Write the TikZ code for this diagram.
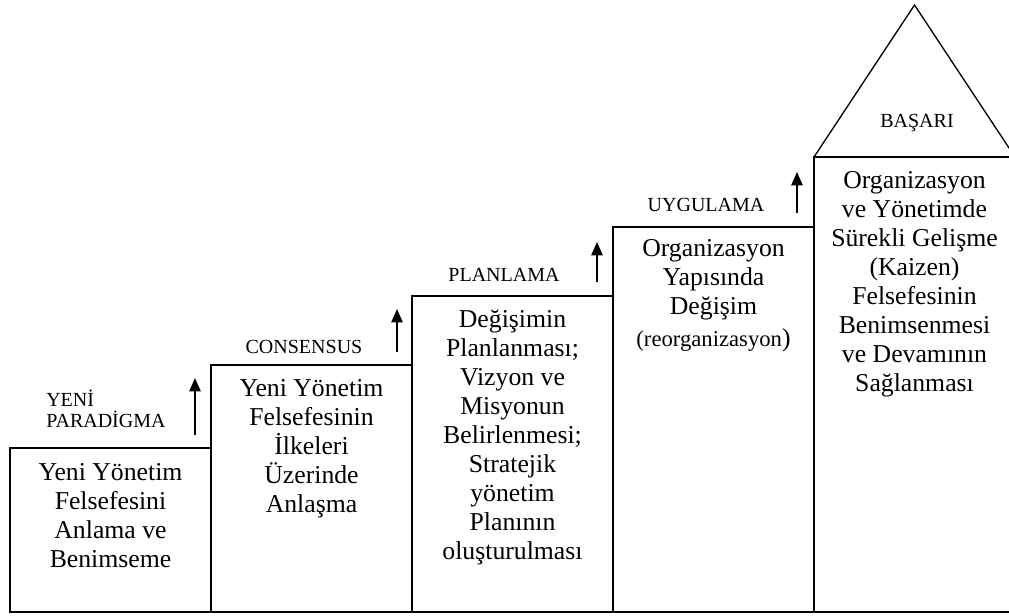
\documentclass[tikz,border=0pt]{standalone}
\usepackage{fontspec}
\setmainfont{Liberation Serif}
\usetikzlibrary{arrows.meta,positioning}
\tikzset{
  stepbox/.style={draw, line width=1.5pt, minimum width=150.75pt, inner sep=0pt,
                  outer sep=0pt, anchor=south west},
  body/.style={align=center, inner sep=0pt, font=\fontsize{19.3pt}{21.75pt}\selectfont},
  lbl/.style={inner sep=0pt, font=\fontsize{15pt}{15.75pt}\selectfont},
  up/.style={-{Triangle[length=10pt, width=8.5pt]}, line width=1.2pt},
}

\begin{document}
\begin{tikzpicture}[x=0.75pt, y=0.75pt]
  \clip (0,0) rectangle (1009,615);
  % steps
  \node[stepbox, minimum height=123pt] (s1) at (10,3) {};
  \node[stepbox, minimum height=185.25pt] (s2) at (s1.south east) {};
  \node[stepbox, minimum height=237pt] (s3) at (s2.south east) {};
  \node[stepbox, minimum height=288.75pt] (s4) at (s3.south east) {};
  \node[stepbox, minimum height=341.25pt] (s5) at (s4.south east) {};
  \coordinate[above=114pt of s5.north] (apex);
  \draw[line width=1pt] (s5.north west) -- (apex) -- (s5.north east);
  % step texts
  \node[body, below=11.5pt of s1.north] (t1) {Yeni Yönetim\\ Felsefesini\\ Anlama ve\\ Benimseme};
  \node[body, below=10.5pt of s2.north] (t2) {Yeni Yönetim\\ Felsefesinin\\ İlkeleri\\ Üzerinde\\ Anlaşma};
  \node[body, below=10.5pt of s3.north] (t3) {Değişimin\\ Planlanması;\\ Vizyon ve\\ Misyonun\\ Belirlenmesi;\\ Stratejik\\ yönetim\\ Planının\\ oluşturulması};
  \node[body, below=9.5pt of s4.north] (t4) {Organizasyon\\ Yapısında\\ Değişim\\[2pt] {\fontsize{17pt}{20pt}\selectfont (reorganizasyon}{\fontsize{19.3pt}{20pt}\selectfont )}};
  \node[body, below=11pt of s5.north] (t5) {Organizasyon\\ ve Yönetimde\\ Sürekli Gelişme\\ (Kaizen)\\ Felsefesinin\\ Benimsenmesi\\ ve Devamının\\ Sağlanması};
  % stage labels
  \node[lbl, align=left, anchor=south west] (l1) at (46,187) {YENİ\\ PARADİGMA};
  \node[lbl, anchor=base] (l2) at (304,262) {CONSENSUS};
  \node[lbl, anchor=base] (l3) at (504,334) {PLANLAMA};
  \node[lbl, anchor=base] (l4) at (706,403) {UYGULAMA};
  \node[lbl, anchor=base] (l5) at (917,487) {BAŞARI};
  % arrows
  \draw[up] ([shift={(-16,13)}]s1.north east) -- ++(0,57);
  \draw[up] ([shift={(-15,13)}]s2.north east) -- ++(0,43);
  \draw[up] ([shift={(-16,14)}]s3.north east) -- ++(0,40);
  \draw[up] ([shift={(-17,14)}]s4.north east) -- ++(0,41);
\end{tikzpicture}
\end{document}
